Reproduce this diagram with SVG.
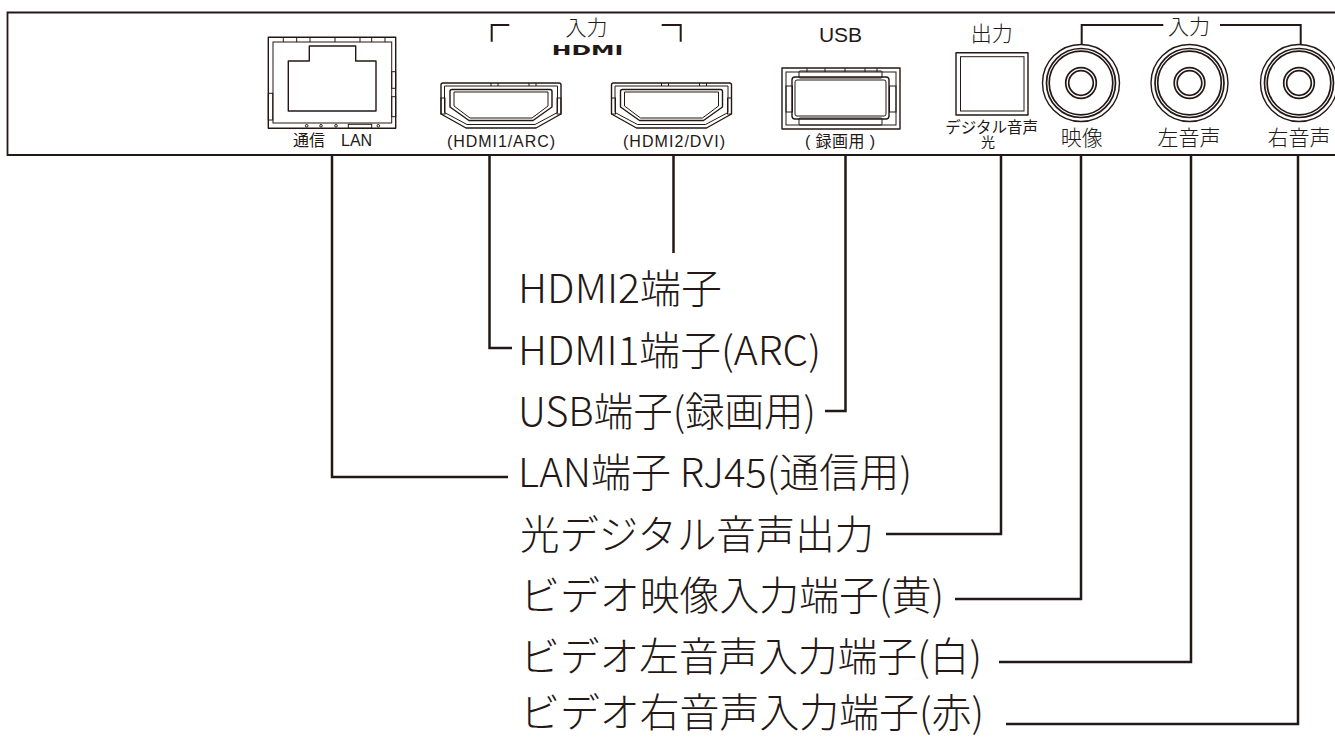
<svg xmlns="http://www.w3.org/2000/svg" xmlns:xlink="http://www.w3.org/1999/xlink" width="1335" height="737" viewBox="0 0 1335 737">
<style>
.pl{fill:none;stroke:#231815;stroke-width:1.4;stroke-linejoin:round}
.pt{fill:none;stroke:#231815;stroke-width:1}
.ring{fill:none;stroke:#231815;stroke-width:1.7}
.ld{fill:none;stroke:#231815;stroke-width:2.5}
.br{fill:none;stroke:#231815;stroke-width:2}
.big{font-family:"Noto Sans CJK JP",sans-serif;font-size:40px;font-weight:300;fill:#231815}
.sm{font-family:"Liberation Sans","Noto Sans CJK JP",sans-serif;font-size:16px;fill:#231815}
.md{font-family:"Noto Sans CJK JP",sans-serif;font-size:21px;font-weight:300;fill:#231815}
.usb{font-family:"Liberation Sans",sans-serif;font-size:21px;fill:#231815}
.logo{font-family:"DejaVu Sans",sans-serif;font-size:14.5px;font-weight:bold;fill:#231815}
.c{text-anchor:middle}
</style>
<defs>
<g id="hdmiPort">
<path class="pl" d="M-58,83 Q-60,83 -60,85 V114 L-35,128 H35 L60,114 V85 Q60,83 58,83 Z"/>
<path class="pt" d="M-56.5,86 H56.5 V112.5 L34,124.5 H-34 L-56.5,112.5 Z"/>
<path class="pl" d="M-49,89.5 H49 Q51,89.5 51,91.5 V107 L32,120.5 H-32 L-51,107 V91.5 Q-51,89.5 -49,89.5 Z"/>
<path class="pt" d="M-47,92 H47 V106 L31,118 H-31 L-47,106 Z"/>
<path class="pt" d="M-10,83 V86 M-3,83 V86 M28,83 V86 M35,83 V86"/>
<rect class="pt" x="-60" y="98" width="4" height="16"/>
<rect class="pt" x="56" y="98" width="4" height="16"/>
</g>
<g id="rca">
<circle class="pl" r="38.5"/>
<circle class="ring" r="34.5"/>
<circle class="ring" r="31.8"/>
<circle class="ring" r="15.3"/>
<circle class="ring" r="12.3"/>
</g>
</defs>

<g id="panel">
<path d="M1345,12.5 H7.5 V155 H1345" fill="none" stroke="#231815" stroke-width="1.8"/>
</g>

<g id="lan-port">
<rect class="pl" x="268.3" y="37.3" width="127.4" height="91"/>
<rect class="pt" x="273" y="42" width="118.7" height="81"/>
<path class="pt" d="M283.3,37.3 V42 M296.7,37.3 V42 M310,37.3 V42 M335,37.3 V42 M360,37.3 V42 M371.7,37.3 V42 M385,37.3 V42"/>
<path class="pl" d="M288.3,61 H309.3 V46 H355.7 V61 H376 V111 H288.3 Z"/>
<rect class="pt" x="268.3" y="93.3" width="4.4" height="26.7"/>
<rect class="pt" x="391.7" y="71.7" width="4" height="16.6"/>
<rect class="pt" x="391.7" y="96.7" width="4" height="20"/>
<circle class="pt" cx="306.7" cy="125.8" r="1.3"/>
<circle class="pt" cx="321" cy="125.8" r="1.3"/>
<circle class="pt" cx="336" cy="125.8" r="1.3"/>
<circle class="pt" cx="378.3" cy="125.8" r="1.3"/>
<rect class="pt" x="348.3" y="124.3" width="23.4" height="4"/>
<text class="sm" x="293" y="146">通信　LAN</text>
</g>

<g id="hdmi-header">
<path class="br" d="M491.7,41.7 V25 H509.3"/>
<path class="br" d="M661.7,25 H680.7 V41.7"/>
<text class="md c" x="586.5" y="34.5">入力</text>
<text class="logo" x="551.7" y="54.5" textLength="71.6" lengthAdjust="spacingAndGlyphs">HDMI</text>
</g>

<g id="hdmi1-port">
<use xlink:href="#hdmiPort" href="#hdmiPort" x="501"/>
<text class="sm c" x="501" y="147" textLength="108" lengthAdjust="spacing">(HDMI1/ARC)</text>
</g>

<g id="hdmi2-port">
<use xlink:href="#hdmiPort" href="#hdmiPort" x="671.5"/>
<text class="sm c" x="674" y="147" textLength="102" lengthAdjust="spacing">(HDMI2/DVI)</text>
</g>

<g id="usb-port">
<text class="usb c" x="840.5" y="41.5">USB</text>
<rect class="pl" x="782" y="68" width="118" height="61"/>
<rect class="pt" x="786" y="72" width="110" height="53"/>
<rect class="pt" x="799" y="71" width="83" height="7" rx="1"/>
<rect class="pt" x="799" y="118" width="83" height="7" rx="1"/>
<rect class="pl" x="792" y="77" width="97" height="42" rx="3"/>
<rect class="pt" x="795" y="80" width="91" height="36" rx="2"/>
<rect class="pt" x="786" y="86" width="6.5" height="26"/>
<rect class="pt" x="889.5" y="86" width="6.5" height="26"/>
<path class="pt" d="M807,68 V72 M825,68 V72 M845,68 V72 M865,68 V72 M877,68 V72"/>
<text class="sm c" x="840" y="147" textLength="70" lengthAdjust="spacing">( 録画用 )</text>
</g>

<g id="optical-port">
<text class="md c" x="991.7" y="40.5">出力</text>
<rect class="pl" x="956" y="52.7" width="72" height="62.3"/>
<rect class="pt" x="960.5" y="56.7" width="63.5" height="54.3"/>
<text class="sm c" x="991.7" y="133" style="font-size:15.5px">デジタル音声</text>
<text class="sm c" x="988" y="147" style="font-size:14px">光</text>
</g>

<g id="rca-header">
<path class="br" d="M1081.7,44 V25 H1163.3"/>
<path class="br" d="M1220,25 H1300.7 V44"/>
<text class="md c" x="1189" y="34">入力</text>
</g>

<g id="video-in">
<use xlink:href="#rca" href="#rca" x="1081" y="83"/>
<text class="md c" x="1081.7" y="145">映像</text>
</g>

<g id="audio-left-in">
<use xlink:href="#rca" href="#rca" x="1189.5" y="83"/>
<text class="md c" x="1189" y="145">左音声</text>
</g>

<g id="audio-right-in">
<use xlink:href="#rca" href="#rca" x="1299" y="83"/>
<text class="md c" x="1299" y="145">右音声</text>
</g>

<g id="connectors">
<path class="ld" d="M332,155 V477 H508"/>
<path class="ld" d="M489.5,155 V348 H512"/>
<path class="ld" d="M673.5,155 V253"/>
<path class="ld" d="M845.5,155 V411 H825"/>
<path class="ld" d="M1001,155 V534 H886"/>
<path class="ld" d="M1081,155 V599 H955"/>
<path class="ld" d="M1191,155 V662 H999"/>
<path class="ld" d="M1298,155 V724 H1006"/>
</g>

<g id="callouts">
<text id="t-hdmi2" class="big" x="518" y="303" textLength="204" lengthAdjust="spacingAndGlyphs">HDMI2端子</text>
<text id="t-hdmi1" class="big" x="518" y="365" textLength="303" lengthAdjust="spacingAndGlyphs">HDMI1端子(ARC)</text>
<text id="t-usb" class="big" x="518" y="426" textLength="298" lengthAdjust="spacingAndGlyphs">USB端子(録画用)</text>
<text id="t-lan" class="big" x="518" y="487" textLength="394" lengthAdjust="spacingAndGlyphs">LAN端子 RJ45(通信用)</text>
<text id="t-opt" class="big" x="520" y="549" textLength="354" lengthAdjust="spacingAndGlyphs">光デジタル音声出力</text>
<text id="t-video" class="big" x="520" y="610" textLength="424" lengthAdjust="spacingAndGlyphs">ビデオ映像入力端子(黄)</text>
<text id="t-left" class="big" x="520" y="671" textLength="462" lengthAdjust="spacingAndGlyphs">ビデオ左音声入力端子(白)</text>
<text id="t-right" class="big" x="520" y="727" textLength="464" lengthAdjust="spacingAndGlyphs">ビデオ右音声入力端子(赤)</text>
</g>
</svg>
